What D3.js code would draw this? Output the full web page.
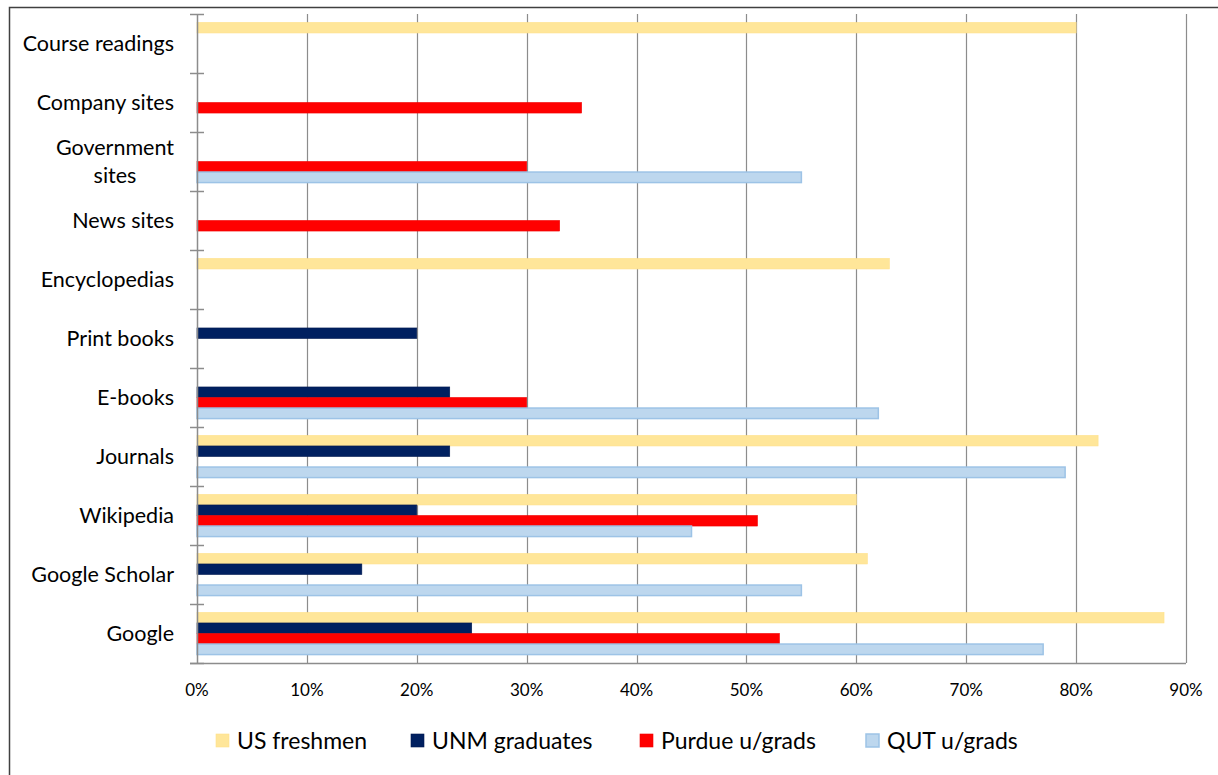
<html>
<script src="https://d3js.org/d3.v7.min.js"></script>
<style>
    body {margin: 0; background: white;}
    text {font-family: Lato, "Open Sans", sans-serif; fill: black;}
</style>
<body>
<svg width=1218 height=775></svg>
<script>
// categories, top to bottom
const categories = ['Course readings', 'Company sites', 'Government sites', 'News sites', 'Encyclopedias',
    'Print books', 'E-books', 'Journals', 'Wikipedia', 'Google Scholar', 'Google'];
const series = ['US freshmen', 'UNM graduates', 'Purdue u/grads', 'QUT u/grads'];
const colors = ['#FFE699', '#002060', '#FF0000', '#BDD7EE'];
const strokes = ['#FFE08A', '#001a50', '#f00000', '#9DC3E6'];

// values in %, null = no bar
const usFreshmen    = [80, null, null, null, 63, null, null, 82, 60, 61, 88];
const unmGraduates  = [null, null, null, null, null, 20, 23, 23, 20, 15, 25];
const purdueUgrads  = [null, 35, 30, 33, null, null, 30, null, 51, null, 53];
const qutUgrads     = [null, null, 55, null, null, null, 62, 79, 45, 55, 77];
const tickValues = [0, 10, 20, 30, 40, 50, 60, 70, 80, 90];

const allSeries = [usFreshmen, unmGraduates, purdueUgrads, qutUgrads];

const svg = d3.select('svg');

// outer frame
svg.append('rect')
    .attr('x', 9.5).attr('y', 7.5)
    .attr('width', 1240).attr('height', 800)
    .attr('fill', 'none').attr('stroke', '#404040').attr('stroke-width', 1.5);

const xs = d3.scaleLinear().domain([0, 90]).range([197, 1186]);
const ys = d3.scaleBand().domain(categories).range([14, 663]);
const inner = d3.scaleBand().domain(series).range([0, ys.bandwidth()]).paddingOuter(0.8);

// gridlines
svg.append('g').selectAll('line')
    .data(tickValues.slice(1))
    .enter().append('line')
    .attr('x1', d => Math.round(xs(d)) + 0.5).attr('x2', d => Math.round(xs(d)) + 0.5)
    .attr('y1', 14).attr('y2', 663)
    .attr('stroke', '#8c8c8c').attr('stroke-width', 1.2);

// bars
const rows = [];
allSeries.forEach((vals, s) => {
    vals.forEach((v, c) => {
        if (v != null) rows.push({cat: categories[c], s: s, v: v});
    });
});

svg.append('g').selectAll('rect')
    .data(rows)
    .enter().append('rect')
    .attr('x', xs(0))
    .attr('y', d => ys(d.cat) + inner(series[d.s]))
    .attr('width', d => xs(d.v) - xs(0))
    .attr('height', inner.bandwidth())
    .attr('fill', d => colors[d.s])
    .attr('stroke', d => strokes[d.s])
    .attr('stroke-width', d => d.s == 3 ? 1.5 : 0.6);

// axes lines
svg.append('line')
    .attr('x1', 197.5).attr('x2', 197.5).attr('y1', 14).attr('y2', 663)
    .attr('stroke', '#8c8c8c').attr('stroke-width', 1.5);
svg.append('line')
    .attr('x1', 190).attr('x2', 1186).attr('y1', 663.5).attr('y2', 663.5)
    .attr('stroke', '#8c8c8c').attr('stroke-width', 1.5);

// category tick marks (cross)
svg.append('g').selectAll('line')
    .data(d3.range(categories.length + 1))
    .enter().append('line')
    .attr('x1', 190).attr('x2', 204)
    .attr('y1', i => 14 + i * ys.step() + 0.5).attr('y2', i => 14 + i * ys.step() + 0.5)
    .attr('stroke', '#8c8c8c').attr('stroke-width', 1.5);

// category labels (wrap long ones, centred block aligned right)
const labelLines = {'Government sites': ['Government', 'sites']};
categories.forEach(c => {
    const lines = labelLines[c] || [c];
    const g = svg.append('g');
    const cy = ys(c) + ys.bandwidth() / 2;
    const lh = 28;
    const texts = lines.map((l, i) => g.append('text')
        .attr('y', cy + (i - (lines.length - 1) / 2) * lh)
        .attr('dy', '0.35em')
        .style('font-size', '21.5px')
        .attr('text-anchor', 'middle')
        .text(l));
    const w = d3.max(texts, t => t.node().getComputedTextLength());
    texts.forEach(t => t.attr('x', 174 - w / 2));
});

// x tick labels
svg.append('g').selectAll('text')
    .data(tickValues)
    .enter().append('text')
    .attr('x', d => xs(d))
    .attr('y', 690)
    .attr('dy', '0.35em')
    .attr('text-anchor', 'middle')
    .style('font-size', '17px')
    .text(d => d + '%');

// legend
const legendX = [216, 411, 640, 866];
const lg = svg.append('g').selectAll('g')
    .data(series)
    .enter().append('g')
    .attr('transform', (d, i) => 'translate(' + legendX[i] + ',734)');
lg.append('rect')
    .attr('width', 13).attr('height', 13)
    .attr('fill', (d, i) => colors[i])
    .attr('stroke', (d, i) => strokes[i])
    .attr('stroke-width', (d, i) => i == 3 ? 1.5 : 0.6);
lg.append('text')
    .attr('x', 21).attr('y', 7).attr('dy', '0.35em')
    .style('font-size', '23px')
    .text(d => d);
</script>
</body>
</html>
